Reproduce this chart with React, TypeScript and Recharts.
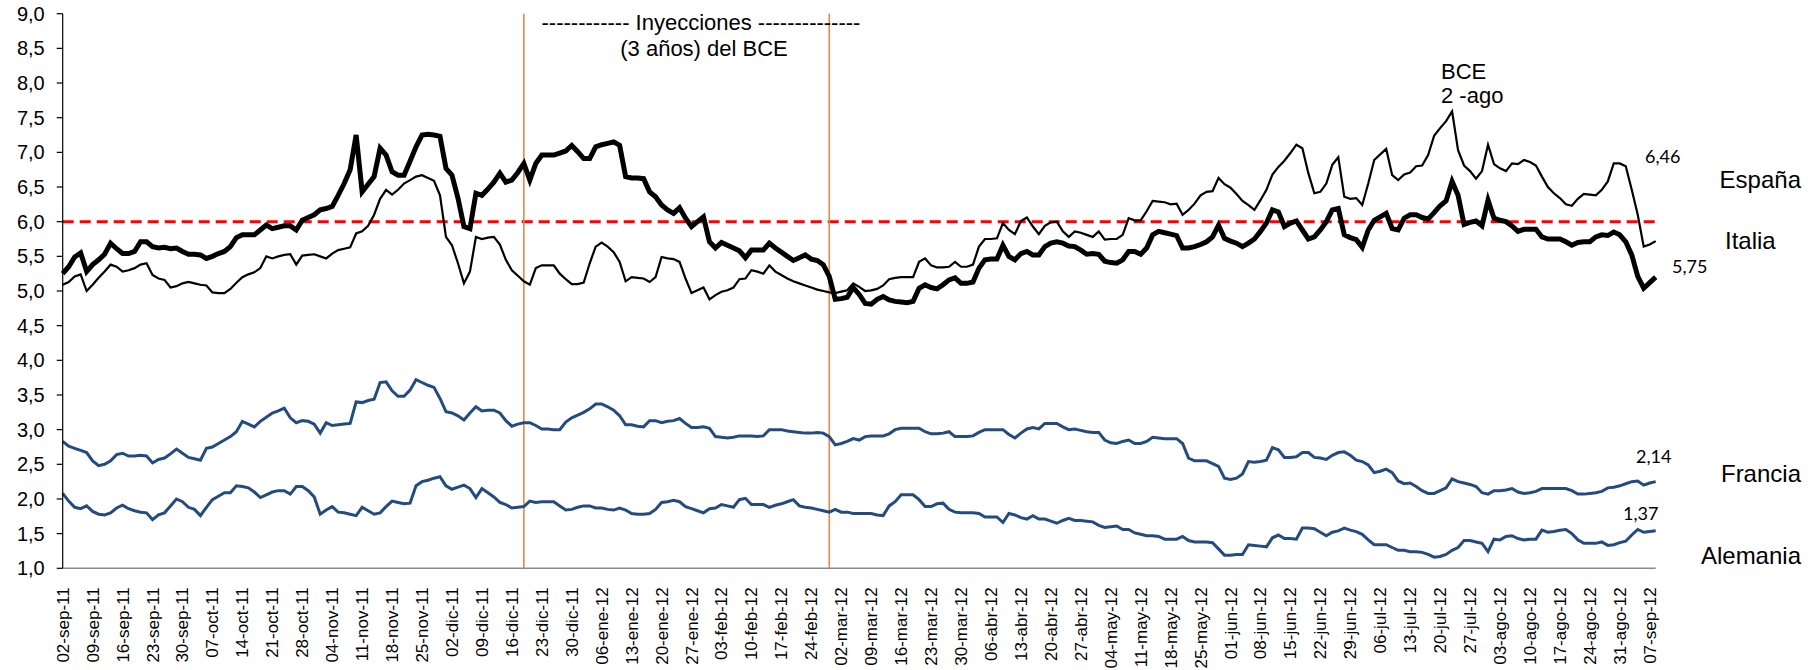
import React from 'react';
import { LineChart, Line, XAxis, YAxis, ReferenceLine } from 'recharts';

const weekLabels = [
  '02-sep-11','09-sep-11','16-sep-11','23-sep-11','30-sep-11','07-oct-11','14-oct-11','21-oct-11','28-oct-11',
  '04-nov-11','11-nov-11','18-nov-11','25-nov-11','02-dic-11','09-dic-11','16-dic-11','23-dic-11','30-dic-11',
  '06-ene-12','13-ene-12','20-ene-12','27-ene-12','03-feb-12','10-feb-12','17-feb-12','24-feb-12',
  '02-mar-12','09-mar-12','16-mar-12','23-mar-12','30-mar-12','06-abr-12','13-abr-12','20-abr-12','27-abr-12',
  '04-may-12','11-may-12','18-may-12','25-may-12','01-jun-12','08-jun-12','15-jun-12','22-jun-12','29-jun-12',
  '06-jul-12','13-jul-12','20-jul-12','27-jul-12','03-ago-12','10-ago-12','17-ago-12','24-ago-12','31-ago-12','07-sep-12'
];

const yTicks = [1, 1.5, 2, 2.5, 3, 3.5, 4, 4.5, 5, 5.5, 6, 6.5, 7, 7.5, 8, 8.5, 9];

const italia = [
  5.25,5.35,5.49,5.55,5.28,5.38,5.45,5.53,5.69,5.61,
  5.54,5.54,5.57,5.71,5.71,5.64,5.62,5.63,5.61,5.62,
  5.57,5.53,5.53,5.52,5.47,5.5,5.54,5.57,5.64,5.77,
  5.81,5.81,5.81,5.88,5.95,5.9,5.92,5.94,5.94,5.88,
  6.02,6.06,6.1,6.17,6.19,
  6.22,6.38,6.55,6.75,7.25,6.43,6.54,6.65,7.06,6.96,
  6.72,6.67,6.67,6.87,7.08,7.25,7.26,7.25,7.23,6.77,
  6.67,6.34,5.93,5.9,6.41,6.38,6.47,6.57,6.7,6.57,
  6.6,6.71,6.84,6.6,6.84,6.96,6.96,6.96,6.99,7.02,
  7.1,7.01,6.91,6.91,7.08,
  7.11,7.13,7.15,7.1,6.65,6.63,6.63,6.62,6.43,6.36,
  6.24,6.17,6.12,6.2,6.05,5.93,6.0,6.07,5.71,5.62,
  5.7,5.66,5.62,5.58,5.48,5.59,5.59,5.59,5.69,5.62,
  5.56,5.5,5.44,5.48,5.52,5.46,5.44,5.38,5.21,4.88,
  4.89,4.91,5.05,4.95,4.82,
  4.81,4.88,4.92,4.87,4.85,4.84,4.83,4.85,5.04,5.09,
  5.05,5.03,5.09,5.16,5.19,5.11,5.11,5.13,5.33,5.45,
  5.46,5.46,5.66,5.5,5.45,5.54,5.57,5.52,5.52,5.64,
  5.69,5.71,5.69,5.65,5.64,5.59,5.53,5.54,5.53,5.43,
  5.41,5.4,5.45,5.57,5.57,
  5.53,5.62,5.81,5.86,5.84,5.82,5.8,5.62,5.62,5.64,
  5.67,5.71,5.78,5.95,5.76,5.72,5.69,5.64,5.69,5.75,
  5.86,5.98,6.17,6.14,5.93,5.98,6.01,5.88,5.75,5.78,
  5.88,6.0,6.17,6.19,5.81,5.77,5.74,5.63,5.88,6.02,
  6.07,6.12,5.9,5.88,6.05,
  6.1,6.1,6.06,6.04,6.13,6.23,6.3,6.58,6.38,5.96,
  5.99,6.01,5.94,6.31,6.05,6.02,6.0,5.94,5.86,5.89,
  5.89,5.89,5.78,5.75,5.75,5.75,5.71,5.66,5.7,5.71,
  5.71,5.78,5.81,5.8,5.85,5.81,5.71,5.52,5.21,5.04,
  5.12,5.2
];

const espana = [
  5.09,5.13,5.21,5.24,5.0,5.09,5.19,5.28,5.38,5.35,
  5.28,5.3,5.33,5.38,5.4,5.23,5.18,5.16,5.05,5.07,
  5.11,5.13,5.11,5.09,5.08,4.98,4.97,4.97,5.03,5.12,
  5.2,5.24,5.27,5.33,5.5,5.47,5.5,5.52,5.53,5.38,
  5.51,5.52,5.53,5.5,5.47,
  5.54,5.59,5.61,5.63,5.83,5.86,5.94,6.1,6.33,6.46,
  6.39,6.46,6.55,6.6,6.65,6.67,6.63,6.59,6.38,5.78,
  5.66,5.4,5.11,5.28,5.78,5.75,5.77,5.78,5.67,5.45,
  5.3,5.22,5.14,5.09,5.33,5.37,5.37,5.37,5.25,5.17,
  5.1,5.1,5.12,5.4,5.64,
  5.7,5.64,5.56,5.42,5.14,5.2,5.19,5.18,5.13,5.2,
  5.49,5.47,5.46,5.42,5.18,4.97,5.01,5.05,4.88,4.94,
  4.99,5.01,5.05,5.17,5.18,5.3,5.28,5.25,5.37,5.28,
  5.23,5.18,5.14,5.11,5.08,5.05,5.02,5.0,4.98,4.97,
  4.99,5.01,5.11,5.06,5.0,
  5.01,5.03,5.08,5.17,5.19,5.2,5.2,5.2,5.42,5.47,
  5.37,5.34,5.34,5.35,5.42,5.35,5.35,5.38,5.64,5.75,
  5.75,5.76,5.98,5.88,5.82,6.01,6.06,5.93,5.82,5.94,
  5.99,6.0,5.86,5.78,5.86,5.84,5.81,5.78,5.86,5.74,
  5.75,5.75,5.81,6.05,6.02,
  6.02,6.15,6.3,6.29,6.28,6.25,6.26,6.1,6.17,6.26,
  6.38,6.43,6.44,6.63,6.54,6.49,6.4,6.3,6.24,6.17,
  6.31,6.46,6.68,6.79,6.88,6.99,7.11,7.06,6.7,6.41,
  6.43,6.55,6.82,6.93,6.36,6.33,6.34,6.24,6.55,6.89,
  6.97,7.05,6.67,6.6,6.68,
  6.71,6.8,6.81,6.96,7.24,7.35,7.45,7.59,7.03,6.81,
  6.73,6.62,6.73,7.11,6.83,6.77,6.73,6.84,6.83,6.89,
  6.86,6.81,6.65,6.5,6.41,6.34,6.25,6.23,6.33,6.4,
  6.39,6.38,6.46,6.58,6.84,6.84,6.8,6.46,6.1,5.64,
  5.67,5.72
];

const francia = [
  2.83,2.76,2.73,2.7,2.67,2.55,2.48,2.5,2.55,2.64,
  2.66,2.62,2.62,2.63,2.62,2.52,2.57,2.59,2.65,2.72,
  2.66,2.6,2.58,2.56,2.73,2.75,2.8,2.85,2.9,2.97,
  3.12,3.08,3.04,3.12,3.18,3.24,3.27,3.31,3.17,3.1,
  3.13,3.12,3.08,2.95,3.1,
  3.06,3.07,3.08,3.09,3.4,3.39,3.42,3.44,3.68,3.69,
  3.56,3.48,3.48,3.57,3.72,3.68,3.64,3.61,3.45,3.26,
  3.24,3.2,3.14,3.24,3.33,3.27,3.28,3.28,3.24,3.13,
  3.05,3.08,3.1,3.1,3.06,3.01,3.01,3.0,3.0,3.11,
  3.17,3.21,3.25,3.3,3.37,
  3.37,3.33,3.28,3.2,3.07,3.07,3.05,3.04,3.13,3.13,
  3.1,3.12,3.13,3.16,3.09,3.03,3.03,3.04,3.02,2.9,
  2.89,2.88,2.89,2.91,2.91,2.91,2.9,2.91,3.0,3.0,
  3.0,2.98,2.97,2.96,2.95,2.95,2.96,2.95,2.9,2.78,
  2.8,2.83,2.87,2.85,2.9,
  2.91,2.91,2.91,2.94,3.0,3.02,3.02,3.02,3.02,2.97,
  2.94,2.94,2.95,2.97,2.9,2.9,2.9,2.91,2.96,3.0,
  3.0,3.0,3.0,2.93,2.88,2.95,3.01,3.03,3.01,3.09,
  3.09,3.09,3.04,3.0,3.01,2.99,2.97,2.96,2.96,2.85,
  2.81,2.8,2.83,2.85,2.8,
  2.8,2.83,2.89,2.88,2.87,2.87,2.87,2.8,2.59,2.55,
  2.55,2.55,2.51,2.47,2.3,2.28,2.3,2.36,2.54,2.53,
  2.54,2.56,2.74,2.71,2.6,2.6,2.61,2.67,2.67,2.6,
  2.59,2.57,2.63,2.67,2.68,2.63,2.56,2.54,2.49,2.38,
  2.4,2.43,2.38,2.26,2.22,
  2.23,2.18,2.12,2.08,2.08,2.12,2.16,2.29,2.25,2.23,
  2.21,2.18,2.09,2.07,2.12,2.12,2.13,2.15,2.1,2.08,
  2.09,2.11,2.15,2.15,2.15,2.15,2.15,2.12,2.07,2.07,
  2.08,2.09,2.11,2.16,2.17,2.19,2.22,2.25,2.26,2.2,
  2.23,2.25
];

const alemania = [
  2.08,1.97,1.88,1.86,1.9,1.82,1.78,1.77,1.8,1.87,
  1.91,1.86,1.83,1.81,1.8,1.7,1.77,1.8,1.9,2.0,
  1.96,1.88,1.85,1.76,1.88,1.99,2.04,2.09,2.09,2.19,
  2.18,2.16,2.1,2.02,2.06,2.1,2.12,2.12,2.07,2.18,
  2.18,2.12,2.03,1.78,1.84,
  1.89,1.81,1.8,1.78,1.76,1.88,1.83,1.78,1.8,1.89,
  1.97,1.95,1.93,1.94,2.19,2.25,2.27,2.3,2.32,2.19,
  2.14,2.17,2.2,2.15,2.02,2.15,2.09,2.03,1.95,1.92,
  1.87,1.88,1.89,1.97,1.95,1.96,1.96,1.96,1.9,1.84,
  1.85,1.88,1.9,1.9,1.87,
  1.87,1.85,1.84,1.87,1.84,1.79,1.78,1.78,1.79,1.85,
  1.95,1.96,1.98,1.96,1.89,1.86,1.83,1.8,1.86,1.87,
  1.92,1.9,1.88,1.99,2.01,1.92,1.92,1.92,1.88,1.91,
  1.93,1.96,1.99,1.9,1.88,1.87,1.85,1.83,1.81,1.85,
  1.81,1.81,1.79,1.79,1.79,
  1.79,1.77,1.76,1.9,1.96,2.06,2.06,2.06,1.99,1.89,
  1.89,1.93,1.94,1.85,1.81,1.8,1.8,1.8,1.79,1.74,
  1.74,1.74,1.66,1.79,1.77,1.73,1.71,1.76,1.71,1.71,
  1.68,1.65,1.69,1.72,1.69,1.69,1.68,1.67,1.62,1.59,
  1.6,1.61,1.56,1.56,1.51,
  1.49,1.47,1.47,1.46,1.42,1.42,1.42,1.46,1.4,1.38,
  1.38,1.38,1.37,1.28,1.19,1.19,1.2,1.2,1.34,1.33,
  1.32,1.31,1.44,1.48,1.43,1.43,1.42,1.58,1.58,1.57,
  1.52,1.47,1.52,1.54,1.58,1.55,1.53,1.49,1.41,1.34,
  1.34,1.34,1.3,1.26,1.26,
  1.24,1.24,1.23,1.2,1.16,1.17,1.2,1.26,1.3,1.4,
  1.4,1.38,1.36,1.24,1.42,1.41,1.46,1.47,1.43,1.41,
  1.42,1.42,1.55,1.52,1.53,1.55,1.56,1.5,1.41,1.36,
  1.36,1.36,1.38,1.33,1.34,1.37,1.39,1.48,1.56,1.52,
  1.53,1.54
];

const ltroDays = [77, 128];

const data = espana.map((v, i) => ({
  i,
  espana: v,
  italia: italia[i],
  francia: francia[i],
  alemania: alemania[i],
}));

const xTicks = weekLabels.map((_, k) => k * 5);

const SANS = '"Liberation Sans", Arial, sans-serif';

const XTick = (props: any) => {
  const { x, y, payload } = props;
  const label = weekLabels[Math.round(payload.value / 5)] ?? '';
  return (
    <text
      transform={`translate(${x + 6},${y + 19}) rotate(-90)`}
      textAnchor="end"
      fontSize={17}
      fontFamily={SANS}
      fill="#000"
    >
      {label}
    </text>
  );
};

const fmtY = (v: number) => v.toFixed(1).replace('.', ',');

export default function App() {
  return (
    <div style={{ position: 'absolute', left: 0, top: 0, width: 1814, height: 670, background: '#fff' }}>
      <LineChart
        width={1814}
        height={670}
        data={data}
        margin={{ top: 13.7, right: 158.3, bottom: 11.7, left: 12.7 }}
      >
        <XAxis
          dataKey="i"
          type="number"
          domain={[0, 266]}
          ticks={xTicks}
          interval={0}
          tick={<XTick />}
          tickLine={false}
          tickSize={0}
          tickMargin={0}
          height={90}
          stroke="#8a8a8a"
          strokeWidth={1.5}
        />
        <YAxis
          type="number"
          domain={[1, 9]}
          ticks={yTicks}
          interval={0}
          tickFormatter={fmtY}
          width={50}
          tickSize={6}
          tickMargin={12}
          stroke="#000"
          strokeWidth={1.2}
          tick={{ fontSize: 20, fontFamily: SANS, fill: '#000' }}
        />
        <ReferenceLine y={6} stroke="#ff0000" strokeWidth={3} strokeDasharray="11 6" />
        {ltroDays.map((d) => (
          <ReferenceLine key={d} x={d} stroke="#e3894a" strokeWidth={1.6} />
        ))}
        <Line type="linear" dataKey="alemania" stroke="#234b80" strokeWidth={3} dot={false} isAnimationActive={false} />
        <Line type="linear" dataKey="francia" stroke="#234b80" strokeWidth={3} dot={false} isAnimationActive={false} />
        <Line type="linear" dataKey="italia" stroke="#000" strokeWidth={5} dot={false} isAnimationActive={false} />
        <Line type="linear" dataKey="espana" stroke="#000" strokeWidth={2.2} dot={false} isAnimationActive={false} />
      </LineChart>
      <svg
        width={1814}
        height={670}
        style={{ position: 'absolute', left: 0, top: 0, pointerEvents: 'none' }}
      >
        <g fontFamily={SANS} fill="#000">
          <text x={701} y={30} fontSize={22} textAnchor="middle">
            ------------ Inyecciones --------------
          </text>
          <text x={704} y={56} fontSize={22} textAnchor="middle">(3 años) del BCE</text>
          <text x={1441} y={79} fontSize={22}>BCE</text>
          <text x={1441} y={103} fontSize={22}>2 -ago</text>
          <text x={1801} y={188} fontSize={24} textAnchor="end">España</text>
          <text x={1725} y={249} fontSize={24}>Italia</text>
          <text x={1801} y={482} fontSize={24} textAnchor="end">Francia</text>
          <text x={1801} y={564} fontSize={24} textAnchor="end">Alemania</text>
        </g>
        <g fontFamily="Lato, 'Open Sans', sans-serif" fill="#000" fontSize={18}>
          <text x={1645} y={163}>6,46</text>
          <text x={1672} y={273}>5,75</text>
          <text x={1636} y={463}>2,14</text>
          <text x={1623} y={520}>1,37</text>
        </g>
      </svg>
    </div>
  );
}
